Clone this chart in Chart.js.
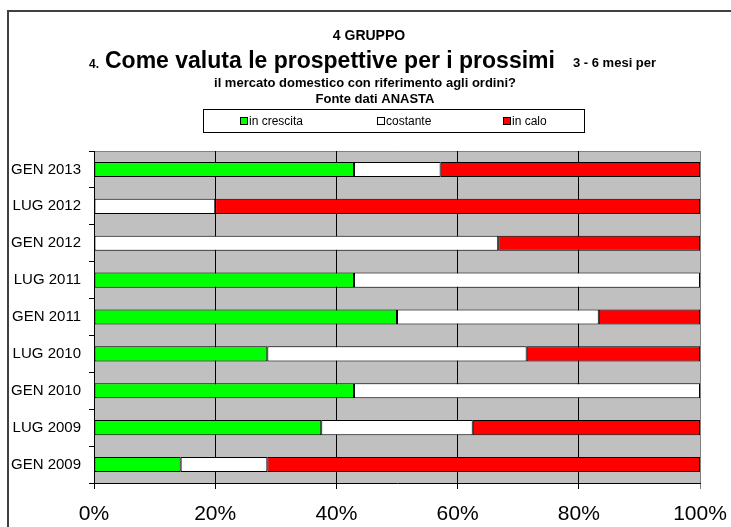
<!DOCTYPE html>
<html>
<head>
<meta charset="utf-8">
<script src="https://cdn.jsdelivr.net/npm/chart.js@4/dist/chart.umd.min.js"></script>
<style>
  body { margin: 0; background: #fff; }
  canvas { display: block; }
</style>
</head>
<body>
<canvas id="chart" width="731" height="527"></canvas>
<script>
// periods, top row first
const categories = ['GEN 2013', 'LUG 2012', 'GEN 2012', 'LUG 2011', 'GEN 2011', 'LUG 2010', 'GEN 2010', 'LUG 2009', 'GEN 2009'];
const inCrescita = [42.9, 0, 0, 42.9, 50, 28.6, 42.9, 37.5, 14.3];
const costante = [14.3, 20, 66.7, 57.1, 33.3, 42.8, 57.1, 25, 14.3];
const inCalo = [42.8, 80, 33.3, 0, 16.7, 28.6, 0, 37.5, 71.4];
const xTickLabels = ['0%', '20%', '40%', '60%', '80%', '100%'];

const seriesNames = ['in crescita', 'costante', 'in calo'];
const seriesColors = ['#00ff00', '#ffffff', '#ff0000'];

const FONT = '"Liberation Sans", Arial, sans-serif';

// frame, plot background, titles and legend box
const decorations = {
  id: 'decorations',
  beforeDraw(chart) {
    const ctx = chart.ctx;
    const a = chart.chartArea;
    ctx.save();

    // outer frame (left and top only, the rest is cut off)
    ctx.strokeStyle = '#404040';
    ctx.lineWidth = 2;
    ctx.beginPath();
    ctx.moveTo(8, 527);
    ctx.lineTo(8, 11);
    ctx.lineTo(731, 11);
    ctx.stroke();

    // plot area
    ctx.fillStyle = '#c0c0c0';
    ctx.fillRect(a.left, a.top, a.right - a.left, a.bottom - a.top);
    ctx.strokeStyle = '#808080';
    ctx.lineWidth = 1;
    ctx.beginPath();
    ctx.moveTo(a.left, a.top + 0.5);
    ctx.lineTo(a.right + 0.5, a.top + 0.5);
    ctx.lineTo(a.right + 0.5, a.bottom);
    ctx.stroke();

    // titles
    ctx.fillStyle = '#000';
    ctx.textBaseline = 'middle';
    ctx.textAlign = 'center';
    ctx.font = 'bold 14px ' + FONT;
    ctx.fillText('4 GRUPPO', 369, 36);

    ctx.textBaseline = 'alphabetic';
    ctx.textAlign = 'left';
    ctx.font = 'bold 12px ' + FONT;
    ctx.fillText('4.', 89, 68);
    ctx.font = 'bold 23px ' + FONT;
    ctx.fillText('Come valuta le prospettive per i prossimi', 105, 68);
    ctx.font = 'bold 13px ' + FONT;
    ctx.fillText('3 - 6 mesi per', 573, 67);

    ctx.textBaseline = 'middle';
    ctx.textAlign = 'center';
    ctx.fillText('il mercato domestico con riferimento agli ordini?', 365, 83);
    ctx.fillText('Fonte dati ANASTA', 375, 99);

    // legend
    ctx.strokeStyle = '#000';
    ctx.strokeRect(203.5, 109.5, 381, 23);
    const itemX = [240, 377, 503];
    ctx.font = '12px ' + FONT;
    ctx.textAlign = 'left';
    for (let i = 0; i < seriesNames.length; i++) {
      ctx.fillStyle = seriesColors[i];
      ctx.fillRect(itemX[i], 117, 7, 7);
      ctx.strokeRect(itemX[i] + 0.5, 117.5, 7, 7);
      ctx.fillStyle = '#000';
      ctx.fillText(seriesNames[i], itemX[i] + 9, 122);
    }
    ctx.restore();
  }
};

const datasets = [inCrescita, costante, inCalo].map((values, i) => ({
  label: seriesNames[i],
  data: values,
  backgroundColor: seriesColors[i],
  borderColor: '#000',
  borderWidth: 1,
  borderSkipped: false,
  categoryPercentage: 1,
  barPercentage: 0.41
}));

new Chart(document.getElementById('chart'), {
  type: 'bar',
  data: { labels: categories, datasets },
  plugins: [decorations],
  options: {
    indexAxis: 'y',
    responsive: false,
    animation: false,
    devicePixelRatio: 1,
    layout: { padding: { top: 151, right: 31, left: 0, bottom: 0 } },
    plugins: {
      legend: { display: false },
      title: { display: false },
      tooltip: { enabled: false }
    },
    scales: {
      x: {
        stacked: true,
        min: 0,
        max: 100,
        afterFit(scale) {
          scale.height = 44;
          // keep the last label from pulling the plot in
          scale.paddingLeft = 0;
          scale.paddingRight = 0;
        },
        ticks: {
          stepSize: 20,
          padding: 13,
          color: '#000',
          font: { family: FONT, size: 21 },
          callback: (v) => xTickLabels[v / 20]
        },
        grid: {
          color: (c) => (c.tick && c.tick.value === 100 ? '#808080' : '#000'),
          lineWidth: 1,
          tickLength: 6
        },
        border: { display: true, color: '#000' }
      },
      y: {
        stacked: true,
        afterFit(scale) { scale.width = 94; },
        ticks: {
          padding: 8,
          color: '#000',
          font: { family: FONT, size: 15 }
        },
        grid: { offset: true, drawOnChartArea: false, color: '#000', tickLength: 5 },
        border: { display: true, color: '#000' }
      }
    }
  }
});
</script>
</body>
</html>
